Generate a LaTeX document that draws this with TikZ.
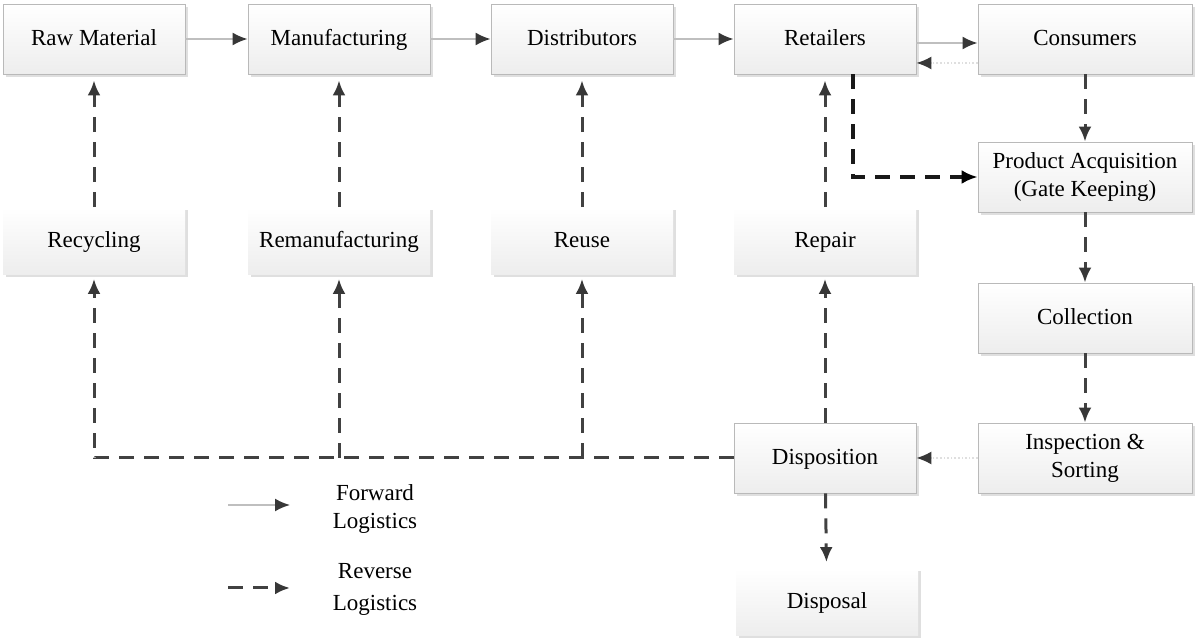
\documentclass[tikz,border=0pt]{standalone}
\usepackage{fontspec}
\setmainfont{Liberation Serif}
\usetikzlibrary{positioning,shadows,arrows.meta}
\definecolor{headgray}{RGB}{55,55,55}
\definecolor{linegray}{RGB}{65,65,65}

\begin{document}
\begin{tikzpicture}[x=0.5pt,y=-0.5pt,
  font=\fontsize{11.5}{14}\selectfont,
  box/.style={draw=gray!55, top color=white, bottom color=gray!14,
    minimum width=91pt, minimum height=35pt, align=center, inner sep=2pt,
    text height=0.88em, text depth=0.22em,
    drop shadow={shadow xshift=1.5pt, shadow yshift=-1.5pt, opacity=0.25}},
  two/.style={text height={}, text depth={}},
  wide/.style={minimum width=107pt},
  flat/.style={box, draw=none, minimum height=33.5pt},
  fwd/.style={draw=gray!50, line width=1pt, -{Latex[length=7.5pt,width=6.5pt,color=headgray]}},
  back/.style={draw=gray!25, line width=0.8pt, densely dotted, -{Latex[length=7.5pt,width=6.5pt,color=headgray]}},
  rev/.style={draw=linegray, line width=1.5pt, dash pattern=on 7.5pt off 5pt,
    -{Latex[length=7.5pt,width=6.5pt,color=headgray]}},
  revdark/.style={rev, draw=black!90, line width=1.6pt, -{Latex[length=8pt,width=7pt,color=black]}}]

 \useasboundingbox (0,0) rectangle (1195,640);

 % forward chain
 \node[box] (raw) at (94,39) {Raw Material};
 \node[box] (manu) at (339,39) {Manufacturing};
 \node[box] (dist) at (582,39) {Distributors};
 \node[box] (ret) at (825,39) {Retailers};
 \node[box,wide] (cons) at (1085,39) {Consumers};

 % reverse chain
 \node[box,wide,two] (acq) at (1085,177) {Product Acquisition\\(Gate Keeping)};
 \node[box,wide] (coll) at (1085,318) {Collection};
 \node[box,wide,two] (insp) at (1085,458) {Inspection \&\\Sorting};
 \node[box] (disp) at (825,458) {Disposition};
 \node[flat] (dispo) at (827,602) {Disposal};

 \node[flat] (recy) at (94,241) {Recycling};
 \node[flat] (reman) at (339,241) {Remanufacturing};
 \node[flat] (reuse) at (582,241) {Reuse};
 \node[flat] (rep) at (825,241) {Repair};

 % legend
 \coordinate (f1) at (228,505);
 \coordinate (f2) at (290,505);
 \coordinate (r1) at (228,588);
 \coordinate (r2) at (290,588);
 \node (fwdtxt) at (375,509) {\begin{tabular}{@{}c@{}}Forward\\Logistics\end{tabular}};
 \node (revtxt) at (375,589) {\begin{tabular}{@{}c@{}}Reverse\\[2pt]Logistics\end{tabular}};

\draw[fwd] (raw) -- (manu);
\draw[fwd] (manu) -- (dist);
\draw[fwd] (dist) -- (ret);
\draw[fwd] ([yshift=-2pt]ret.east) -- ([yshift=-2pt]cons.west);
\draw[back] ([yshift=-12pt]cons.west) -- ([yshift=-12pt]ret.east);

\draw[rev] (cons) -- (acq);
\draw[rev] (acq) -- (coll);
\draw[rev] (coll) -- (insp);
\draw[back] (insp) -- (disp);
\draw[rev,shorten >=3pt] (disp) -- (dispo);
\draw[revdark] ([xshift=14pt]ret.south) |- (acq.west);

\draw[rev,shorten >=2pt] (disp.west) -| (recy.south);
\draw[rev,shorten >=2pt] (reman.south |- disp.west) -- (reman.south);
\draw[rev,shorten >=2pt] (reuse.south |- disp.west) -- (reuse.south);
\draw[rev,shorten >=2pt] (disp) -- (rep);

\draw[rev,shorten >=3pt] (recy) -- (raw);
\draw[rev,shorten >=3pt] (reman) -- (manu);
\draw[rev,shorten >=3pt] (reuse) -- (dist);
\draw[rev,shorten >=3pt] (rep) -- (ret);

\draw[fwd] (f1) -- (f2);
\draw[rev] (r1) -- (r2);

\end{tikzpicture}
\end{document}
